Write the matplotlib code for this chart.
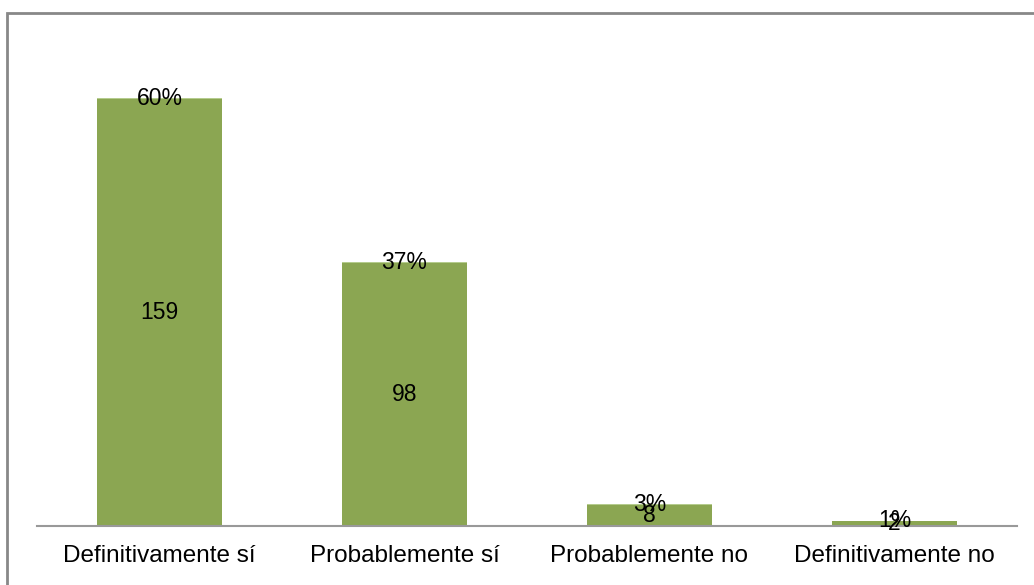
import matplotlib
matplotlib.use("Agg")
import matplotlib.pyplot as plt
from matplotlib.patches import Rectangle

categories = ["Definitivamente sí", "Probablemente sí", "Probablemente no", "Definitivamente no"]
counts = [159, 98, 8, 2]
shares = [0.60, 0.37, 0.03, 0.01]
share_labels = ["60%", "37%", "3%", "1%"]

plt.rcParams['font.family'] = ['Liberation Sans', 'DejaVu Sans']

fig = plt.figure(figsize=(10.34, 5.85), dpi=100)
ax = fig.add_axes([37/1034, 1 - 526/585, 980/1034, 483/585])

x = range(len(categories))
ax.bar(x, counts, width=0.51, color='#8BA652')
ax.bar(x, shares, bottom=counts, width=0.51, color='#B5CC8E')

for i, (c, s, lab) in enumerate(zip(counts, shares, share_labels)):
    ax.text(i, c / 2, str(c), ha='center', va='center', fontsize=16.5)
    ax.text(i, c + s / 2, lab, ha='center', va='center', fontsize=16.5)

ax.set_xlim(-0.5, len(categories) - 0.5)
ax.set_ylim(0, 180)
ax.set_xticks(list(x))
ax.set_xticklabels(categories, fontsize=17.5)
ax.tick_params(axis='x', length=0, pad=14)
ax.set_yticks([])
for side in ['top', 'right', 'left']:
    ax.spines[side].set_visible(False)
ax.spines['bottom'].set_color('#999999')
ax.spines['bottom'].set_linewidth(1.5)

# chart border (right and bottom edges fall outside the picture)
fig.add_artist(Rectangle((7/1034, -0.1), 1.2, 1 - 13/585 + 0.1,
                         transform=fig.transFigure, fill=False,
                         edgecolor='#888888', linewidth=2))

fig.savefig("out.png", dpi=100)
